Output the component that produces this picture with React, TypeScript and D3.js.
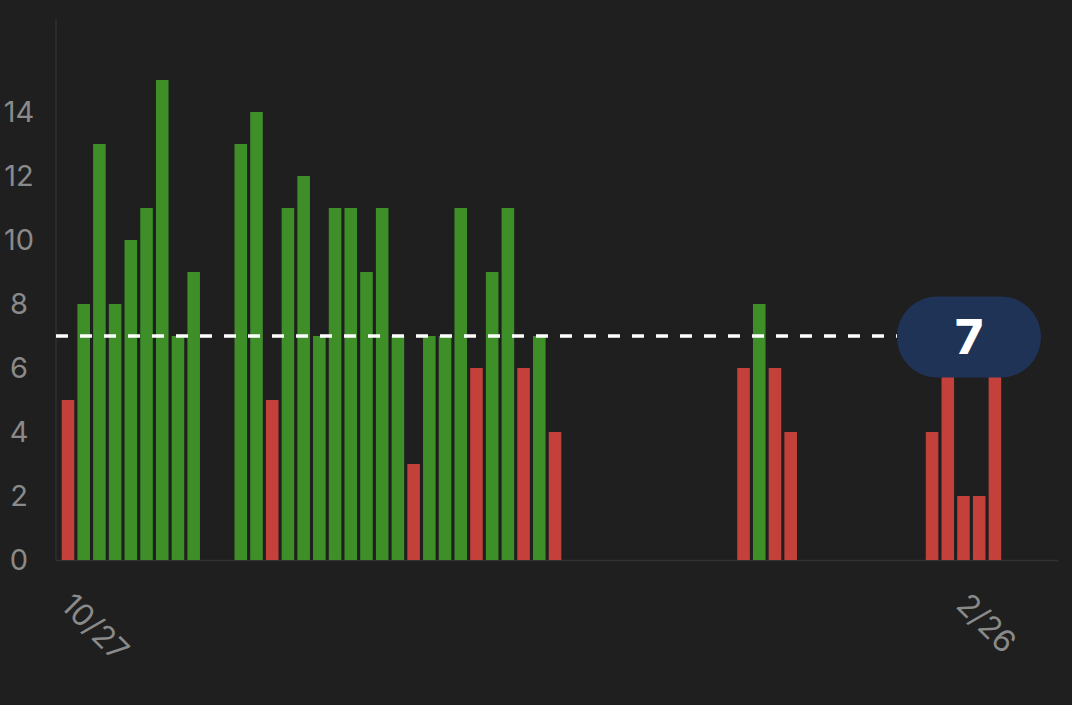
import React, { useEffect } from "react";
import * as d3 from "d3";

// ---- data ----
// one slot per bar position; null = no bar drawn
const values: (number | null)[] = [
  5, 8, 13, 8, 10, 11, 15, 7, 9, null,
  null, 13, 14, 5, 11, 12, 7, 11, 11, 9,
  11, 7, 3, 7, 7, 11, 6, 9, 11, 6,
  7, 4, null, null, null, null, null, null, null, null,
  null, null, null, 6, 8, 6, 4, null, null, null,
  null, null, null, null, null, 4, 6, 2, 2, 6,
];
const slots: number[] = values.map((_, i) => i);
const target = 7;
const yTicks = [0, 2, 4, 6, 8, 10, 12, 14];
const xTickSlots = [0, 57];
const xTickLabels = ["10/27", "2/26"];

const W = 1072;
const H = 705;
const plotLeft = 56;
const plotRight = 1058;
const plotTop = 20;
const plotBottom = 560;

const GREEN = "#3f8f29";
const RED = "#c4403a";
const BG = "#1f1f1f";
const TEXT = "#8a8a8a";
const FONT = "Inter, 'Noto Sans', sans-serif";

if (typeof document !== "undefined") {
  document.documentElement.style.background = BG;
  document.body.style.margin = "0";
  document.body.style.background = BG;
  document.body.style.overflow = "hidden";
}

export default function App() {
  useEffect(() => {
    document.body.style.margin = "0";
    document.body.style.background = BG;
  }, []);

  const x = d3
    .scaleBand<number>()
    .domain(slots)
    .range([61.7, 1001.2])
    .paddingInner(0.2)
    .paddingOuter(0)
    .align(0);
  const y = d3.scaleLinear().domain([0, 16.875]).range([plotBottom, plotTop]);

  const ty = y(target);
  const pillW = 144;
  const pillH = 81;
  const pillCx = 969;

  return (
    <svg width={W} height={H} style={{ display: "block", background: BG }}>
      <rect x={0} y={0} width={W} height={H} fill={BG} />
      {/* axes */}
      <line x1={plotLeft} x2={plotLeft} y1={plotTop} y2={plotBottom} stroke="#303030" strokeWidth={1.5} />
      <line x1={plotLeft} x2={plotRight} y1={plotBottom + 0.5} y2={plotBottom + 0.5} stroke="#333333" strokeWidth={1.5} />
      {/* y tick labels */}
      {yTicks.map((t) => (
        <text
          key={t}
          x={19}
          y={y(t)}
          dy="0.36em"
          textAnchor="middle"
          fill={TEXT}
          fontFamily={FONT}
          fontSize={29}
        >
          {t}
        </text>
      ))}
      {/* bars */}
      {values.map((v, i) =>
        v == null ? null : (
          <rect
            key={i}
            x={x(i)}
            y={y(v)}
            width={x.bandwidth()}
            height={y(0) - y(v)}
            fill={v >= target ? GREEN : RED}
          />
        )
      )}
      {/* x tick labels */}
      {xTickSlots.map((s, k) => (
        <text
          key={s}
          transform={`translate(${(x(s) as number) + x.bandwidth() / 2 + 7},${591}) rotate(45)`}
          dy="0.72em"
          textAnchor="start"
          fill={TEXT}
          fontFamily={FONT}
          fontSize={31}
        >
          {xTickLabels[k]}
        </text>
      ))}
      {/* target line */}
      <line
        x1={plotLeft}
        x2={pillCx - pillW / 2}
        y1={ty}
        y2={ty}
        stroke="#ffffff"
        strokeWidth={3.5}
        strokeDasharray="12,12"
      />
      <rect
        x={pillCx - pillW / 2}
        y={ty - pillH / 2 + 1}
        width={pillW}
        height={pillH}
        rx={40}
        ry={40}
        fill="#1f3357"
      />
      <text
        x={pillCx}
        y={ty + 1}
        dy="0.36em"
        textAnchor="middle"
        fill="#ffffff"
        fontFamily={FONT}
        fontWeight={800}
        fontSize={48}
      >
        {target}
      </text>
    </svg>
  );
}
